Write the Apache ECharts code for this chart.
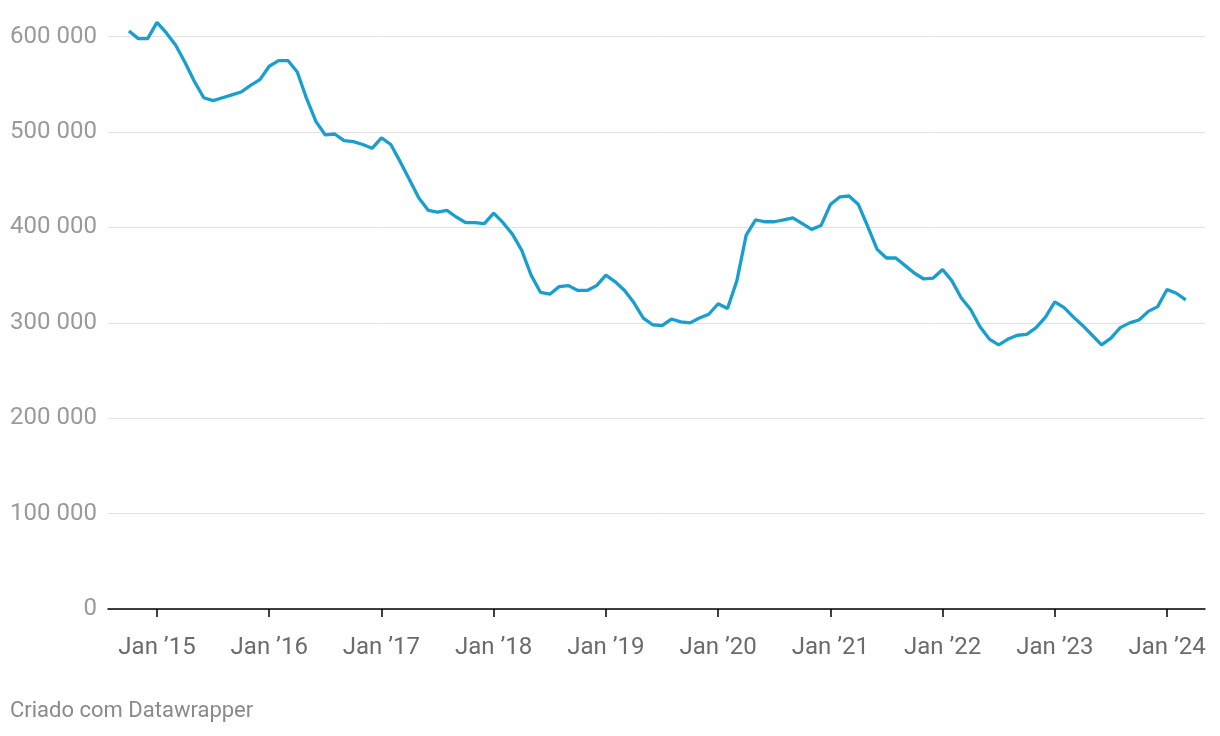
<!DOCTYPE html>
<html>
<head>
<meta charset="utf-8">
<script src="https://cdn.jsdelivr.net/npm/echarts@6/dist/echarts.min.js"></script>
<style>
html,body{margin:0;padding:0;background:#fff;}
#chart{width:1220px;height:736px;}
</style>
</head>
<body>
<div id="chart"></div>
<script>
// Monthly series, first point = October 2014 (month index -3 relative to Jan 2015)
const firstMonthIndex = -3;
const values = [
  606000, 598000, 598000,
  615000, 604000, 591000, 573000, 553000, 536000, 533000, 536000, 539000, 542000, 549000, 555000,
  569000, 575000, 575000, 563000, 535000, 511000, 497000, 498000, 491000, 490000, 487000, 483000,
  494000, 487000, 469000, 450000, 431000, 418000, 416000, 418000, 411000, 405000, 405000, 404000,
  415000, 405000, 393000, 376000, 350000, 332000, 330000, 338000, 339000, 334000, 334000, 339000,
  350000, 343000, 334000, 321000, 305000, 298000, 297000, 304000, 301000, 300000, 305000, 309000,
  320000, 315000, 344000, 392000, 408000, 406000, 406000, 408000, 410000, 404000, 398000, 402000,
  424000, 432000, 433000, 424000, 401000, 377000, 368000, 368000, 360000, 352000, 346000, 347000,
  356000, 344000, 326000, 314000, 296000, 283000, 277000, 283000, 287000, 288000, 295000, 306000,
  322000, 316000, 306000, 297000, 287000, 277000, 284000, 295000, 300000, 303000, 312000, 317000,
  335000, 331000, 324000
];
const tickLabels = ['Jan \u201915', 'Jan \u201916', 'Jan \u201917', 'Jan \u201918', 'Jan \u201919',
                    'Jan \u201920', 'Jan \u201921', 'Jan \u201922', 'Jan \u201923', 'Jan \u201924'];
const tickPositions = [0, 12, 24, 36, 48, 60, 72, 84, 96, 108];
const footer = 'Criado com Datawrapper';

const data = values.map((v, i) => [firstMonthIndex + i, v]);

const chart = echarts.init(document.getElementById('chart'), null, {renderer: 'canvas'});
chart.setOption({
  animation: false,
  backgroundColor: '#ffffff',
  textStyle: {fontFamily: 'Roboto'},
  grid: {left: 108, right: 15, top: 36.7, bottom: 127, containLabel: false},
  xAxis: {
    type: 'value',
    min: -5.24,
    max: 112.06,
    axisLine: {show: true, onZero: false, lineStyle: {color: '#000000', width: 1.5}},
    axisTick: {show: true, length: 8, lineStyle: {color: '#000000', width: 1.5}, customValues: tickPositions},
    axisLabel: {
      customValues: tickPositions,
      color: '#6b6b6b', fontSize: 24, fontFamily: 'Roboto', margin: 27,
      formatter: function (val) {
        const k = tickPositions.indexOf(Math.round(val));
        return k >= 0 ? tickLabels[k] : '';
      }
    },
    splitLine: {show: false}
  },
  yAxis: {
    type: 'value',
    min: 0, max: 600000, interval: 100000,
    axisLine: {show: false},
    axisTick: {show: false},
    axisLabel: {
      color: '#9a9a9a', fontSize: 24, fontFamily: 'Roboto', margin: 11,
      formatter: function (v) {
        return String(v).replace(/\B(?=(\d{3})+(?!\d))/g, ' ');
      }
    },
    splitLine: {show: true, lineStyle: {color: '#e2e2e2', width: 1}}
  },
  series: [{
    type: 'line',
    data: data,
    clip: false,
    showSymbol: false,
    symbol: 'none',
    lineStyle: {color: '#189fcf', width: 3.3},
    itemStyle: {color: '#189fcf'},
    z: 5
  }],
  graphic: [{
    type: 'text', left: 10, top: 700,
    style: {text: footer, fill: '#8a8a8a', font: '22px Roboto'}
  }]
});
</script>
</body>
</html>
